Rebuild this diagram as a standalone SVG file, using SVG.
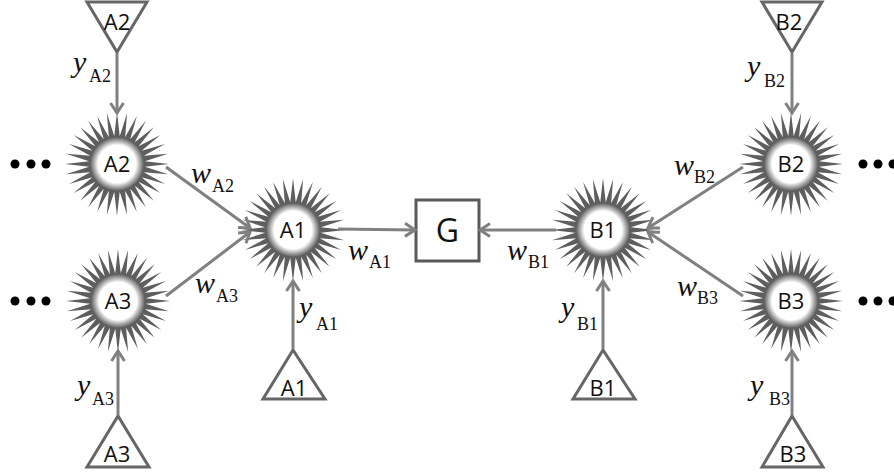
<svg xmlns="http://www.w3.org/2000/svg" width="894" height="474" viewBox="0 0 894 474">
<style>
.tri{fill:#fff;stroke:#666;stroke-width:3;stroke-linejoin:miter}
.lbl{font-family:"Open Sans","DejaVu Sans",sans-serif;font-size:22px;fill:#111;text-anchor:middle}
.g{font-family:"Open Sans","DejaVu Sans",sans-serif;font-size:32px;fill:#111;text-anchor:middle}
.m{font-family:"Liberation Serif","Times New Roman",serif;font-size:30px;font-style:italic;fill:#111}
.s{font-style:normal;font-size:18px}
.e{stroke:#808080;stroke-width:3;fill:none;marker-end:url(#arr)}
.dot{fill:#000}
</style>
<defs>
<marker id="arr" markerUnits="userSpaceOnUse" markerWidth="14" markerHeight="16" viewBox="0 0 14 16" refX="12" refY="8" orient="auto">
<path d="M2,1.5 L12,8 L2,14.5" fill="none" stroke="#808080" stroke-width="3"/>
</marker>
<radialGradient id="glow" cx="0.5" cy="0.5" r="0.5">
<stop offset="0" stop-color="#fff" stop-opacity="1"/>
<stop offset="0.7" stop-color="#fff" stop-opacity="1"/>
<stop offset="1" stop-color="#fff" stop-opacity="0"/>
</radialGradient>
<g id="star">
<polygon fill="#5e5e5e" points="52,0 27.87,2.74 51,10.14 26.79,8.13 48.04,19.9 24.69,13.2 43.24,28.89 21.64,17.76 36.77,36.77 17.76,21.64 28.89,43.24 13.2,24.69 19.9,48.04 8.13,26.79 10.14,51 2.74,27.87 0,52 -2.74,27.87 -10.14,51 -8.13,26.79 -19.9,48.04 -13.2,24.69 -28.89,43.24 -17.76,21.64 -36.77,36.77 -21.64,17.76 -43.24,28.89 -24.69,13.2 -48.04,19.9 -26.79,8.13 -51,10.14 -27.87,2.74 -52,0 -27.87,-2.74 -51,-10.14 -26.79,-8.13 -48.04,-19.9 -24.69,-13.2 -43.24,-28.89 -21.64,-17.76 -36.77,-36.77 -17.76,-21.64 -28.89,-43.24 -13.2,-24.69 -19.9,-48.04 -8.13,-26.79 -10.14,-51 -2.74,-27.87 0,-52 2.74,-27.87 10.14,-51 8.13,-26.79 19.9,-48.04 13.2,-24.69 28.89,-43.24 17.76,-21.64 36.77,-36.77 21.64,-17.76 43.24,-28.89 24.69,-13.2 48.04,-19.9 26.79,-8.13 51,-10.14 27.87,-2.74"/>
<circle r="27" fill="url(#glow)"/>
</g>
</defs>
<rect width="894" height="474" fill="#fff"/>

<g id="starA2"><use href="#star" x="117" y="164"/><text class="lbl" x="117" y="172">A2</text></g>
<g id="starA3"><use href="#star" x="118" y="301"/><text class="lbl" x="118" y="309">A3</text></g>
<g id="starA1"><use href="#star" x="293" y="230"/><text class="lbl" x="293" y="238">A1</text></g>
<g id="starB1"><use href="#star" x="603" y="230"/><text class="lbl" x="603" y="238">B1</text></g>
<g id="starB2"><use href="#star" x="791" y="164"/><text class="lbl" x="791" y="172">B2</text></g>
<g id="starB3"><use href="#star" x="791" y="301"/><text class="lbl" x="791" y="309">B3</text></g>

<g id="G"><rect x="416" y="200" width="63" height="61" fill="#fff" stroke="#595959" stroke-width="3"/><text class="g" x="447.5" y="242">G</text></g>

<g id="triA2"><polygon class="tri" points="87,2 147,2 117,52"/><text class="lbl" x="117" y="30">A2</text></g>
<g id="triA1"><polygon class="tri" points="263,399 325,399 293,350"/><text class="lbl" x="294" y="396">A1</text></g>
<g id="triA3"><polygon class="tri" points="87,467 149,467 118,416"/><text class="lbl" x="117" y="462">A3</text></g>
<g id="triB2"><polygon class="tri" points="762,2 822,2 792,52"/><text class="lbl" x="789" y="30">B2</text></g>
<g id="triB1"><polygon class="tri" points="573,399 635,399 603,350"/><text class="lbl" x="603" y="396">B1</text></g>
<g id="triB3"><polygon class="tri" points="762,467 823,467 792,416"/><text class="lbl" x="793" y="462">B3</text></g>

<g id="connectors">
<line class="e" x1="117" y1="53" x2="117" y2="113"/>
<line class="e" x1="118" y1="415" x2="118" y2="351"/>
<line class="e" x1="293" y1="349" x2="293" y2="281"/>
<line class="e" x1="603" y1="349" x2="603" y2="281"/>
<line class="e" x1="792" y1="53" x2="792" y2="113"/>
<line class="e" x1="792" y1="415" x2="792" y2="351"/>
<line class="e" x1="166" y1="167" x2="250" y2="228"/>
<line class="e" x1="166" y1="296" x2="250" y2="232"/>
<line class="e" x1="338" y1="229" x2="415" y2="230"/>
<line class="e" x1="556" y1="230" x2="480" y2="230"/>
<line class="e" x1="743" y1="167" x2="648" y2="228"/>
<line class="e" x1="743" y1="296" x2="648" y2="232"/>
</g>

<g id="labels">
<text class="m" x="73" y="72">y<tspan class="s" x="89" y="82">A2</tspan></text>
<text class="m" x="191" y="183">w<tspan class="s" x="212" y="192">A2</tspan></text>
<text class="m" x="195" y="293">w<tspan class="s" x="216" y="302">A3</tspan></text>
<text class="m" x="348" y="260">w<tspan class="s" x="369" y="268">A1</tspan></text>
<text class="m" x="299" y="317">y<tspan class="s" x="316" y="330">A1</tspan></text>
<text class="m" x="77" y="395">y<tspan class="s" x="92" y="405">A3</tspan></text>
<text class="m" x="507" y="260">w<tspan class="s" x="528" y="268">B1</tspan></text>
<text class="m" x="561" y="317">y<tspan class="s" x="577" y="330">B1</tspan></text>
<text class="m" x="747" y="76">y<tspan class="s" x="764" y="87">B2</tspan></text>
<text class="m" x="674" y="175">w<tspan class="s" x="694" y="183">B2</tspan></text>
<text class="m" x="677" y="296">w<tspan class="s" x="697" y="304">B3</tspan></text>
<text class="m" x="750" y="395">y<tspan class="s" x="769" y="405">B3</tspan></text>
</g>

<g id="dots">
<circle class="dot" cx="15" cy="164" r="4.5"/><circle class="dot" cx="31" cy="164" r="4.5"/><circle class="dot" cx="46" cy="164" r="4.5"/>
<circle class="dot" cx="15" cy="301" r="4.5"/><circle class="dot" cx="31" cy="301" r="4.5"/><circle class="dot" cx="46" cy="301" r="4.5"/>
<circle class="dot" cx="863" cy="164" r="4.5"/><circle class="dot" cx="878" cy="164" r="4.5"/><circle class="dot" cx="893" cy="164" r="4.5"/>
<circle class="dot" cx="863" cy="301" r="4.5"/><circle class="dot" cx="878" cy="301" r="4.5"/><circle class="dot" cx="893" cy="301" r="4.5"/>
</g>
</svg>
